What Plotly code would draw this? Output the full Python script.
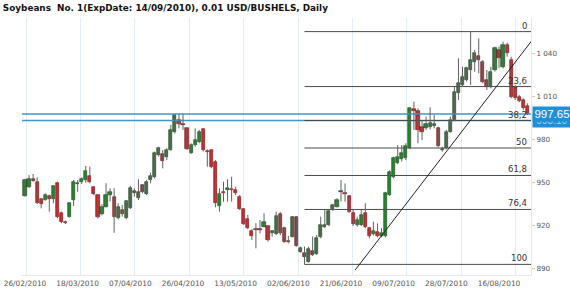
import plotly.graph_objects as go

title_text = "Soybeans  No. 1(ExpDate: 14/09/2010), 0.01 USD/BUSHELS, Daily"
date_labels = ["26/02/2010", "18/03/2010", "07/04/2010", "26/04/2010", "13/05/2010",
               "02/06/2010", "21/06/2010", "09/07/2010", "28/07/2010", "16/08/2010"]

open_ = [940.7, 946.5, 952.1, 950.4, 938.1, 937.6, 940.4, 938.3, 949.7, 928.8,
         922.3, 926.0, 937.6, 948.8, 950.2, 951.6, 954.4, 946.9, 941.1, 927.6,
         933.0, 941.1, 940.0, 924.8, 930.7, 924.8, 931.8, 944.1, 938.8, 948.1,
         942.0, 951.6, 953.4, 968.8, 969.5, 967.9, 972.5, 985.3, 993.4, 990.4,
         987.6, 970.2, 975.8, 978.3, 987.0, 971.6, 972.5, 964.4, 933.4, 943.0,
         944.6, 945.3, 944.6, 940.0, 931.4, 924.1, 916.2, 917.4, 917.2, 919.0,
         919.5, 914.4, 913.9, 928.1, 918.3, 908.8, 912.1, 925.8, 901.6, 900.4,
         894.4, 902.3, 899.9, 911.6, 919.0, 920.2, 931.1, 933.0, 943.2, 942.7,
         940.4, 928.8, 920.2, 920.2, 928.3, 917.9, 913.9, 915.5, 912.5, 912.5,
         941.1, 953.9, 963.7, 966.0, 966.7, 973.7, 1000.9, 999.9, 988.3, 987.6,
         988.3, 989.2, 987.6, 972.5, 973.7, 985.3, 993.4, 1012.0, 1017.9, 1021.3,
         1028.3, 1034.1, 1038.1, 1034.1, 1021.3, 1016.7, 1028.3, 1042.3, 1030.6, 1045.8,
         1035.3, 1016.7, 1009.2, 1007.4, 1003.2]
high = [952.5, 955.1, 955.8, 953.4, 938.6, 942.3, 941.4, 948.1, 950.4, 929.5,
        923.2, 936.2, 951.6, 951.6, 953.4, 961.4, 960.9, 947.4, 941.6, 934.8,
        949.3, 945.8, 945.8, 935.3, 934.1, 937.6, 947.4, 945.8, 952.1, 948.8,
        951.6, 956.7, 971.4, 974.8, 972.5, 973.7, 990.0, 997.6, 997.6, 997.6,
        987.9, 977.2, 987.6, 986.5, 987.6, 973.0, 973.0, 965.5, 945.8, 950.4,
        952.1, 953.9, 946.9, 941.1, 931.8, 927.2, 917.2, 921.4, 923.7, 928.3,
        920.2, 916.7, 929.5, 929.3, 919.0, 912.5, 926.5, 926.5, 905.1, 905.1,
        905.1, 912.1, 913.2, 926.0, 930.7, 931.1, 935.0, 938.8, 951.6, 949.2,
        941.1, 930.6, 926.0, 930.6, 935.3, 919.0, 922.5, 921.3, 917.9, 943.4,
        958.5, 967.9, 976.0, 976.0, 977.2, 1002.3, 1006.2, 1001.6, 993.4, 995.8,
        1002.3, 996.9, 988.8, 974.8, 986.5, 995.8, 1016.7, 1036.5, 1030.6, 1030.6,
        1055.1, 1042.3, 1050.4, 1035.3, 1028.3, 1030.6, 1044.6, 1044.6, 1048.1, 1047.4,
        1037.6, 1017.9, 1010.9, 1008.5, 1005.1]
low = [940.0, 946.0, 950.4, 934.8, 931.8, 937.2, 929.5, 935.3, 924.8, 921.4,
       920.9, 925.5, 933.4, 943.4, 948.8, 949.7, 949.3, 940.9, 924.8, 926.9,
       932.5, 936.5, 914.8, 924.1, 926.0, 924.1, 931.4, 940.0, 937.6, 942.3,
       941.1, 949.3, 952.7, 967.9, 959.7, 965.5, 972.0, 984.1, 987.6, 986.5,
       972.5, 969.7, 974.8, 977.2, 971.4, 960.9, 959.7, 932.5, 929.5, 936.5,
       936.5, 936.5, 941.1, 930.7, 920.2, 917.2, 909.7, 903.9, 914.4, 918.6,
       908.6, 912.1, 913.2, 913.2, 907.9, 907.4, 911.6, 905.1, 900.9, 892.7,
       894.0, 898.6, 899.3, 910.9, 917.9, 919.5, 930.0, 932.5, 936.5, 936.5,
       928.8, 919.5, 919.0, 919.5, 917.9, 910.9, 913.0, 911.6, 911.6, 911.6,
       940.4, 952.7, 962.7, 964.4, 965.5, 973.0, 986.5, 977.2, 979.5, 986.5,
       986.9, 987.6, 974.4, 971.3, 973.0, 984.6, 992.7, 1007.4, 1016.7, 1020.2,
       1017.9, 1027.2, 1026.0, 1019.0, 1014.4, 1015.5, 1027.2, 1029.5, 1029.5, 1037.6,
       1008.5, 1007.4, 1005.8, 1000.4, 996.9]
close = [951.6, 952.5, 951.1, 935.3, 934.8, 941.1, 938.6, 947.4, 925.5, 922.3,
         921.6, 935.8, 950.4, 949.5, 952.1, 957.9, 950.4, 941.6, 925.5, 932.5,
         941.4, 943.4, 926.0, 932.5, 927.6, 936.9, 945.8, 942.3, 943.4, 943.0,
         950.4, 954.4, 970.2, 973.7, 964.6, 972.5, 986.5, 996.9, 990.7, 989.7,
         973.0, 976.0, 979.5, 984.8, 972.5, 970.9, 960.9, 935.3, 941.6, 942.5,
         946.0, 944.8, 942.3, 931.6, 920.9, 917.9, 912.5, 916.9, 916.7, 922.0,
         909.7, 916.2, 926.5, 914.4, 908.6, 908.3, 925.8, 905.5, 904.4, 898.1,
         903.4, 899.3, 910.9, 920.2, 920.2, 930.2, 934.1, 937.6, 943.7, 942.0,
         929.5, 920.9, 923.7, 927.2, 919.0, 912.5, 916.2, 912.5, 914.8, 942.3,
         957.4, 966.7, 967.4, 970.2, 975.3, 1001.6, 999.9, 986.5, 985.3, 990.6,
         991.1, 990.6, 975.3, 973.2, 985.3, 993.4, 1013.2, 1019.0, 1023.7, 1029.5,
         1035.3, 1039.9, 1035.3, 1020.2, 1016.7, 1027.2, 1043.4, 1036.5, 1045.8, 1039.9,
         1009.7, 1008.5, 1006.9, 1001.6, 997.65]

last_price = 997.65
second_price = 993.10
fib_levels = [0, 23.6, 38.2, 50, 61.8, 76.4, 100]
fib_labels = ["0", "23,6", "38,2", "50", "61,8", "76,4", "100"]
trend_idx = [81.5, 125.1]
trend_price = [888.8, 1048.8]
y_ticks = [890, 920, 950, 980, 1010, 1040]

n = len(close)
idx = list(range(n))
x_lo, x_hi = -0.74, n - 0.1
y_lo, y_hi = 885.3, 1064.6

fib_top = max(high)
fib_bot = min(low)
fib_start = low.index(fib_bot)

GREEN, RED = "#22892a", "#d3262b"
GREEN_EDGE, RED_EDGE = "#173d17", "#5e1414"

fig = go.Figure()

# horizontal price lines
for p in [second_price, last_price]:
    fig.add_trace(go.Scatter(x=[x_lo, x_hi], y=[p, p], mode="lines",
                             line=dict(color="#3c98c9", width=1.5),
                             hoverinfo="skip", showlegend=False))

# fibonacci lines
for lv in fib_levels:
    val = fib_top - (fib_top - fib_bot) * lv / 100.0
    fig.add_trace(go.Scatter(x=[fib_start, x_hi], y=[val, val], mode="lines",
                             line=dict(color="#4a4a4a", width=1),
                             hoverinfo="skip", showlegend=False))

# wicks
wx, wy = [], []
for i in idx:
    wx += [i, i, None]
    wy += [low[i], high[i], None]
fig.add_trace(go.Scatter(x=wx, y=wy, mode="lines",
                         line=dict(color="#606060", width=1),
                         hoverinfo="skip", showlegend=False))

# trend line
fig.add_trace(go.Scatter(x=trend_idx, y=trend_price, mode="lines",
                         line=dict(color="#222222", width=1),
                         hoverinfo="skip", showlegend=False))

# bodies
up = [c >= o for o, c in zip(open_, close)]
fig.add_trace(go.Bar(
    x=idx,
    base=[min(o, c) for o, c in zip(open_, close)],
    y=[max(abs(c - o), 0.4) for o, c in zip(open_, close)],
    width=0.78,
    marker=dict(color=[GREEN if u else RED for u in up],
                line=dict(color=[GREEN_EDGE if u else RED_EDGE for u in up], width=0.6)),
    hoverinfo="skip", showlegend=False))

annotations = []
for lv, lab in zip(fib_levels, fib_labels):
    val = fib_top - (fib_top - fib_bot) * lv / 100.0
    annotations.append(dict(x=x_hi, y=val, xref="x", yref="y", text=lab,
                            showarrow=False, xanchor="right", yanchor="bottom",
                            xshift=-2, yshift=-1,
                            font=dict(family="DejaVu Sans", size=8.5, color="#333333")))

annotations.append(dict(x=1, y=second_price, xref="paper", yref="y",
                        text=f"{second_price:.2f}", showarrow=False,
                        xanchor="left", yanchor="middle", xshift=1, width=36,
                        bgcolor="#1e8fd8", borderpad=1,
                        font=dict(family="Liberation Sans", size=10, color="#a5d3f2")))
annotations.append(dict(x=1, y=last_price, xref="paper", yref="y",
                        text=f"{last_price:.2f}", showarrow=False,
                        xanchor="left", yanchor="middle", xshift=1, width=36,
                        bgcolor="#1e8fd8", borderpad=1,
                        font=dict(family="Liberation Sans", size=11.5, color="white")))

fig.update_layout(
    width=570, height=295,
    margin=dict(l=22, r=39, t=18, b=20, autoexpand=False),
    paper_bgcolor="white", plot_bgcolor="white",
    separators=". ",
    bargap=0,
    title=dict(text=f"<b>{title_text}</b>", x=0.005, xanchor="left",
               y=0.972, yanchor="middle",
               font=dict(family="DejaVu Sans", size=8.85, color="#111111")),
    xaxis=dict(range=[x_lo, x_hi], automargin=False,
               tickvals=[13 * k for k in range(len(date_labels))],
               ticktext=date_labels, showgrid=False, zeroline=False,
               ticks="", ticklabelstandoff=1,
               showline=True, linecolor="#e4e8ee", linewidth=1,
               tickfont=dict(family="DejaVu Sans", size=7.4, color="#555555")),
    xaxis2=dict(range=[x_lo, x_hi], overlaying="x", showgrid=True, automargin=False,
                gridcolor="#e3edf5", gridwidth=1, tick0=0.25, dtick=13.43,
                showticklabels=False, ticks="", zeroline=False),
    yaxis=dict(range=[y_lo, y_hi], side="right", tickvals=y_ticks, automargin=False,
               tickformat=",d", showgrid=False, zeroline=False,
               ticks="outside", ticklen=3, tickcolor="#cccccc",
               showline=True, linecolor="#e4e8ee", linewidth=1,
               tickfont=dict(family="DejaVu Sans", size=7.2, color="#555555")),
    annotations=annotations,
    showlegend=False,
)
# invisible trace on xaxis2 so its grid renders
fig.add_trace(go.Scatter(x=[x_lo], y=[y_lo], xaxis="x2", mode="markers",
                         marker=dict(opacity=0), hoverinfo="skip", showlegend=False))

fig.write_html("out.html")
